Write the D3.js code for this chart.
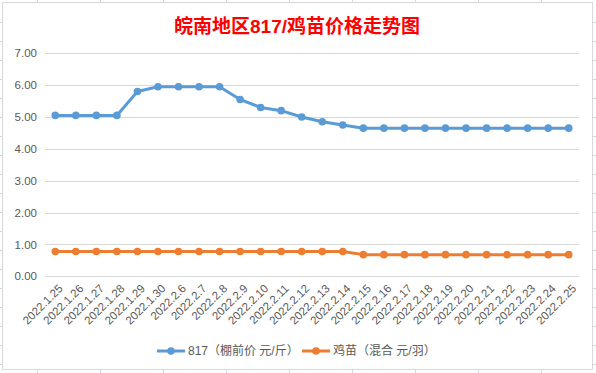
<!DOCTYPE html>
<html>
<head>
<meta charset="utf-8">
<script src="https://cdn.jsdelivr.net/npm/d3@7"></script>
<style>
  body { margin: 0; background: #fff; }
  text { font-family: "Liberation Sans", "Noto Sans CJK SC", sans-serif; }
</style>
</head>
<body>
<div id="chart-area"></div>
<script>
const dates = ["2022.1.25", "2022.1.26", "2022.1.27", "2022.1.28", "2022.1.29", "2022.1.30",
  "2022.2.6", "2022.2.7", "2022.2.8", "2022.2.9", "2022.2.10", "2022.2.11", "2022.2.12",
  "2022.2.13", "2022.2.14", "2022.2.15", "2022.2.16", "2022.2.17", "2022.2.18", "2022.2.19",
  "2022.2.20", "2022.2.21", "2022.2.22", "2022.2.23", "2022.2.24", "2022.2.25"]
const broiler817 = [5.05, 5.05, 5.05, 5.05, 5.8, 5.95, 5.95, 5.95, 5.95, 5.55, 5.3, 5.2, 5.0,
  4.85, 4.75, 4.65, 4.65, 4.65, 4.65, 4.65, 4.65, 4.65, 4.65, 4.65, 4.65, 4.65]
const chicks = [0.78, 0.78, 0.78, 0.78, 0.78, 0.78, 0.78, 0.78, 0.78, 0.78, 0.78, 0.78, 0.78,
  0.78, 0.78, 0.68, 0.68, 0.68, 0.68, 0.68, 0.68, 0.68, 0.68, 0.68, 0.68, 0.68]
const yTicks = [0, 1, 2, 3, 4, 5, 6, 7]
const seriesNames = ["817（棚前价 元/斤）", "鸡苗（混合 元/羽）"]
const colours = ["#5B9BD5", "#ED7D31"]

const W = 596, H = 373
const PLOT = { LEFT: 45, RIGHT: 579, TOP: 53.3, BOTTOM: 276.3 }

const svg = d3.select("#chart-area").append("svg")
  .attr("width", W)
  .attr("height", H)

// spreadsheet grid peeking round the chart
const sheet = svg.append("g").attr("stroke", "#d4d6e0").attr("stroke-width", 1)
d3.range(37, 596, 63).forEach(cx => {
  sheet.append("line").attr("x1", cx + 0.5).attr("x2", cx + 0.5).attr("y1", 0).attr("y2", 2)
  sheet.append("line").attr("x1", cx + 0.5).attr("x2", cx + 0.5).attr("y1", 370).attr("y2", 373)
})
d3.range(22, 373, 19).forEach(cy => {
  sheet.append("line").attr("x1", 0).attr("x2", 2).attr("y1", cy + 0.5).attr("y2", cy + 0.5)
  sheet.append("line").attr("x1", 593).attr("x2", 596).attr("y1", cy + 0.5).attr("y2", cy + 0.5)
})

// chart frame
svg.append("rect")
  .attr("x", 2.5).attr("y", 2.5)
  .attr("width", 590).attr("height", 367)
  .attr("fill", "#fff")
  .attr("stroke", "#d9d9d9")

// Title
svg.append("text")
  .attr("x", 297)
  .attr("y", 33)
  .attr("text-anchor", "middle")
  .attr("font-size", "19px")
  .attr("font-weight", "bold")
  .attr("fill", "#ff0000")
  .text("皖南地区817/鸡苗价格走势图")

// Scales
const x = d3.scalePoint()
  .domain(dates)
  .range([PLOT.LEFT, PLOT.RIGHT])
  .padding(0.5)

const y = d3.scaleLinear()
  .domain([0, 7])
  .range([PLOT.BOTTOM, PLOT.TOP])

// Gridlines
svg.append("g")
  .selectAll("line")
  .data(yTicks)
  .enter().append("line")
  .attr("x1", PLOT.LEFT)
  .attr("x2", PLOT.RIGHT)
  .attr("y1", d => Math.round(y(d)) + 0.5)
  .attr("y2", d => Math.round(y(d)) + 0.5)
  .attr("stroke", "#d9d9d9")

// Y axis labels
const yAxis = d3.axisLeft(y).tickValues(yTicks).tickFormat(d3.format(".2f")).tickSize(0).tickPadding(8)
const yg = svg.append("g")
  .attr("transform", `translate(${PLOT.LEFT}, 0)`)
  .call(yAxis)
yg.select(".domain").remove()
yg.selectAll("text").attr("font-size", "11.5px").attr("fill", "#595959")
  .style("font-family", "\"Liberation Sans\", sans-serif")

// X axis labels
const xAxis = d3.axisBottom(x).tickSize(0).tickPadding(0)
const xg = svg.append("g")
  .attr("transform", `translate(0, ${PLOT.BOTTOM})`)
  .call(xAxis)
xg.select(".domain").remove()
xg.selectAll("text")
  .attr("font-size", "11.5px")
  .attr("fill", "#595959")
  .attr("text-anchor", "end")
  .attr("dy", "0.35em")
  .attr("y", 0)
  .attr("transform", "translate(5, 10) rotate(-45)")

// Lines + markers
const line = d3.line()
  .x((d, i) => x(dates[i]))
  .y(d => y(d))

const series = [broiler817, chicks]
series.forEach((vals, s) => {
  svg.append("path")
    .datum(vals)
    .attr("d", line)
    .attr("fill", "none")
    .attr("stroke", colours[s])
    .attr("stroke-width", 3)
    .attr("stroke-linejoin", "round")
  svg.append("g")
    .selectAll("circle")
    .data(vals)
    .enter().append("circle")
    .attr("cx", (d, i) => x(dates[i]))
    .attr("cy", d => y(d))
    .attr("r", 3.8)
    .attr("fill", colours[s])
})

// Legend
const legendX = [157, 302]
seriesNames.forEach((name, s) => {
  const lg = svg.append("g").attr("transform", `translate(${legendX[s]}, 351)`)
  lg.append("line")
    .attr("x1", 0).attr("x2", 28)
    .attr("stroke", colours[s])
    .attr("stroke-width", 3)
  lg.append("circle")
    .attr("cx", 14)
    .attr("r", 3.8)
    .attr("fill", colours[s])
  lg.append("text")
    .attr("x", 31)
    .attr("dy", "0.35em")
    .attr("font-size", "12px")
    .attr("fill", "#595959")
    .text(name)
})
</script>
</body>
</html>
